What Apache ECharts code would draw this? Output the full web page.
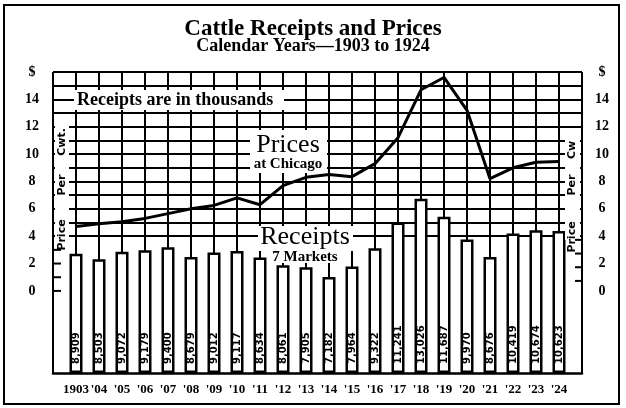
<!DOCTYPE html>
<html>
<head>
  <meta charset="UTF-8">
  <script src="https://cdn.jsdelivr.net/npm/echarts@6/dist/echarts.min.js"></script>
  <style>
    html, body { margin: 0; background: #fff; }
    #main { width: 626px; height: 408px; }
  </style>
</head>
<body>
  <div id="main"></div>
  <script>
    // years on the bottom axis
    var years = ['1903', "'04", "'05", "'06", "'07", "'08", "'09", "'10", "'11", "'12", "'13",
                 "'14", "'15", "'16", "'17", "'18", "'19", "'20", "'21", "'22", "'23", "'24"];
    // receipts at 7 markets, head (printed in thousands)
    var receipts = [8909, 8503, 9072, 9179, 9400, 8679, 9012, 9117, 8634, 8061, 7905,
                    7182, 7964, 9322, 11241, 13026, 11687, 9970, 8676, 10419, 10674, 10623];
    // price per cwt at Chicago, $
    var prices = [4.7, 4.9, 5.05, 5.3, 5.65, 6.0, 6.25, 6.8, 6.3, 7.7, 8.3,
                  8.5, 8.35, 9.3, 11.2, 14.7, 15.6, 13.2, 8.2, 9.0, 9.4, 9.45];
    // tick labels of the price scale, 0 .. 16 step 2
    var priceLabels = ['0', '2', '4', '6', '8', '10', '12', '14', '$'];

    var serif = '"Liberation Serif", "DejaVu Serif", serif';

    // horizontal rules only from $4 up
    var ruleColors = [];
    for (var v = -6; v <= 16; v++) {
      ruleColors.push(v >= 4 ? '#000' : 'rgba(0,0,0,0)');
    }

    function priceLabel(v) {
      if (v < 0 || v % 2 !== 0) return '';
      return priceLabels[v / 2];
    }

    function fmtReceipt(n) {
      var r = String(n % 1000);
      while (r.length < 3) r = '0' + r;
      return Math.floor(n / 1000) + ',' + r;
    }

    var nid = 0;
    function txt(x, y, text, font, rot, align) {
      return {
        type: 'text', id: 't' + (nid++), x: x, y: y, rotation: rot || 0, z: 110,
        style: { x: 0, y: 0, text: text, font: font, fill: '#000',
                 align: align || 'center', verticalAlign: 'middle',
                 textAlign: align || 'center', textVerticalAlign: 'middle' }
      };
    }
    function box(x, y, w, h) {
      return { type: 'rect', id: 'b' + (nid++), z: 105, shape: { x: x, y: y, width: w, height: h },
               style: { fill: '#fff', stroke: null } };
    }

    var chart = echarts.init(document.getElementById('main'));

    chart.setOption({
      backgroundColor: '#fff',
      animation: false,
      grid: { left: 53, right: 44, top: 72, bottom: 35 },
      xAxis: {
        type: 'value', min: -1, max: 22, interval: 1,
        axisLine: { show: true, onZero: false, lineStyle: { color: '#000', width: 2.5 } },
        axisTick: { show: false },
        splitLine: { show: true, lineStyle: { color: '#000', width: 2 } },
        axisLabel: {
          margin: 10, color: '#000', fontFamily: serif, fontWeight: 'bold', fontSize: 13,
          formatter: function (v) { return years[v] || ''; }
        }
      },
      yAxis: [{
        type: 'value', position: 'left', min: -6, max: 16, interval: 1,
        axisLine: { show: false }, axisTick: { show: false },
        splitLine: { show: true, lineStyle: { color: ruleColors, width: 2 } },
        axisLabel: { margin: 21, align: 'center', color: '#000', fontFamily: serif,
                     fontWeight: 'bold', fontSize: 14, formatter: priceLabel }
      }, {
        type: 'value', position: 'right', min: -6, max: 16, interval: 1,
        axisLine: { show: false }, axisTick: { show: false }, splitLine: { show: false },
        axisLabel: { margin: 20, align: 'center', color: '#000', fontFamily: serif,
                     fontWeight: 'bold', fontSize: 14, formatter: priceLabel }
      }, {
        type: 'value', show: false, min: 0, max: 22500
      }],
      series: [{
        type: 'bar',
        yAxisIndex: 2,
        barWidth: 13,
        z: 3,
        data: receipts.map(function (r, i) { return [i, r]; }),
        itemStyle: { color: '#fff', borderColor: '#000', borderWidth: 2.5 },
        label: {
          show: true, position: 'insideBottom', distance: 9, rotate: 90,
          align: 'left', verticalAlign: 'middle',
          fontFamily: '"DejaVu Sans", sans-serif', fontWeight: 'bold', fontSize: 10, color: '#000',
          formatter: function (p) { return fmtReceipt(p.value[1]); }
        }
      }, {
        type: 'line',
        yAxisIndex: 0,
        z: 4,
        symbol: 'none',
        data: prices.map(function (p, i) { return [i, p]; }),
        lineStyle: { color: '#000', width: 3 }
      }],
      graphic: [
        { type: 'rect', id: 'frame', z: 120, shape: { x: 4, y: 5, width: 615, height: 399 },
          style: { fill: null, stroke: '#000', lineWidth: 2 } },
        txt(313, 29, 'Cattle Receipts and Prices', 'bold 23px ' + serif),
        txt(313, 46, 'Calendar Years\u20141903 to 1924', 'bold 18px ' + serif),

        box(74, 90, 210, 20),
        txt(77, 100, 'Receipts are in thousands', 'bold 18px ' + serif, 0, 'left'),

        box(250, 130, 77, 43),
        txt(288, 145, 'Prices', '26px ' + serif),
        txt(288, 164, 'at Chicago', 'bold 15px ' + serif),

        box(258, 226, 95, 25),
        box(268, 250, 76, 13),
        txt(305, 237, 'Receipts', '26px ' + serif),
        txt(305, 257, '7 Markets', 'bold 15px ' + serif),

        box(55, 120, 14, 120),
        txt(62, 142, 'Cwt.', 'bold 11px "DejaVu Sans"', Math.PI / 2),
        txt(62, 185, 'Per', 'bold 11px "DejaVu Sans"', Math.PI / 2),
        txt(62, 235, 'Price', 'bold 11px "DejaVu Sans"', Math.PI / 2),

        box(565, 136, 15, 104),
        txt(572, 150, 'Cw', 'bold 11px "DejaVu Sans"', Math.PI / 2),
        txt(572, 185, 'Per', 'bold 11px "DejaVu Sans"', Math.PI / 2),
        txt(572, 237, 'Price', 'bold 11px "DejaVu Sans"', Math.PI / 2)
      ]
    });

    // short stubs on the frame for the lowest dollars
    var stubs = [];
    [0, 1, 2, 3].forEach(function (v) {
      var y = chart.convertToPixel({ yAxisIndex: 0 }, v);
      stubs.push({ type: 'line', id: 'sl' + v, z: 110, shape: { x1: 53, y1: y, x2: 61, y2: y },
                   style: { stroke: '#000', lineWidth: 2 } });
      stubs.push({ type: 'line', id: 'sr' + v, z: 110, shape: { x1: 575, y1: y - 10, x2: 582, y2: y - 10 },
                   style: { stroke: '#000', lineWidth: 2 } });
    });
    chart.setOption({ graphic: stubs });
  </script>
</body>
</html>
